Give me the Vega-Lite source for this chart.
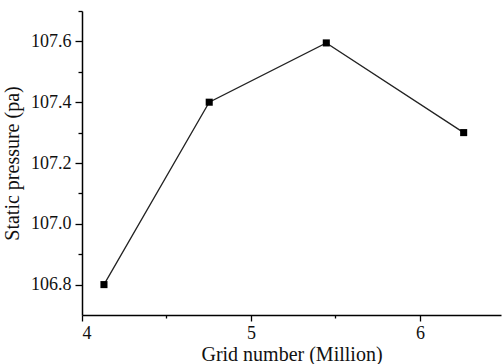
{
  "$schema": "https://vega.github.io/schema/vega-lite/v6.json",
  "width": 419,
  "height": 304,
  "autosize": "none",
  "padding": {"left": 82, "top": 11, "right": 1, "bottom": 49},
  "background": "white",
  "config": {
    "view": {"stroke": null},
    "axis": {
      "labelFont": "Liberation Serif",
      "titleFont": "Liberation Serif",
      "labelFontSize": 18,
      "titleFontSize": 20,
      "labelColor": "#111",
      "titleColor": "#111",
      "titleFontWeight": "normal",
      "domainColor": "#000",
      "domainWidth": 1.5,
      "tickColor": "#000",
      "tickWidth": 1.3,
      "grid": false
    }
  },
  "data": {
    "values": [
      {"grid": 4.13, "pressure": 106.8},
      {"grid": 4.753, "pressure": 107.4},
      {"grid": 5.446, "pressure": 107.595},
      {"grid": 6.259, "pressure": 107.3}
    ]
  },
  "encoding": {
    "x": {"field": "grid", "type": "quantitative"},
    "y": {"field": "pressure", "type": "quantitative"}
  },
  "layer": [
    {
      "mark": {"type": "line", "color": "#222", "strokeWidth": 1.3},
      "encoding": {
        "x": {
          "field": "grid", "type": "quantitative",
          "scale": {"domain": [4, 6.48], "nice": false, "zero": false},
          "axis": {"values": [4, 5, 6], "orient": "bottom", "tickSize": 6, "labelPadding": 3, "title": "Grid number (Million)", "titlePadding": 2, "format": "d"}
        },
        "y": {
          "field": "pressure", "type": "quantitative",
          "scale": {"domain": [106.7, 107.7], "nice": false, "zero": false},
          "axis": {"values": [106.8, 107.0, 107.2, 107.4, 107.6], "orient": "left", "tickSize": 7, "labelPadding": 4, "format": ".1f", "title": "Static pressure (pa)", "titlePadding": 8}
        }
      }
    },
    {
      "mark": {"type": "square", "color": "#000", "opacity": 1, "size": 50, "filled": true},
      "encoding": {
        "x": {
          "field": "grid", "type": "quantitative",
          "axis": {"values": [4.5, 5.5, 6.5], "orient": "bottom", "tickSize": 3, "labels": false, "domain": false, "title": null}
        },
        "y": {
          "field": "pressure", "type": "quantitative",
          "axis": {"values": [106.9, 107.1, 107.3, 107.5, 107.7], "orient": "left", "tickSize": 4, "labels": false, "domain": false, "title": null}
        }
      }
    }
  ],
  "resolve": {"axis": {"x": "independent", "y": "independent"}}
}
